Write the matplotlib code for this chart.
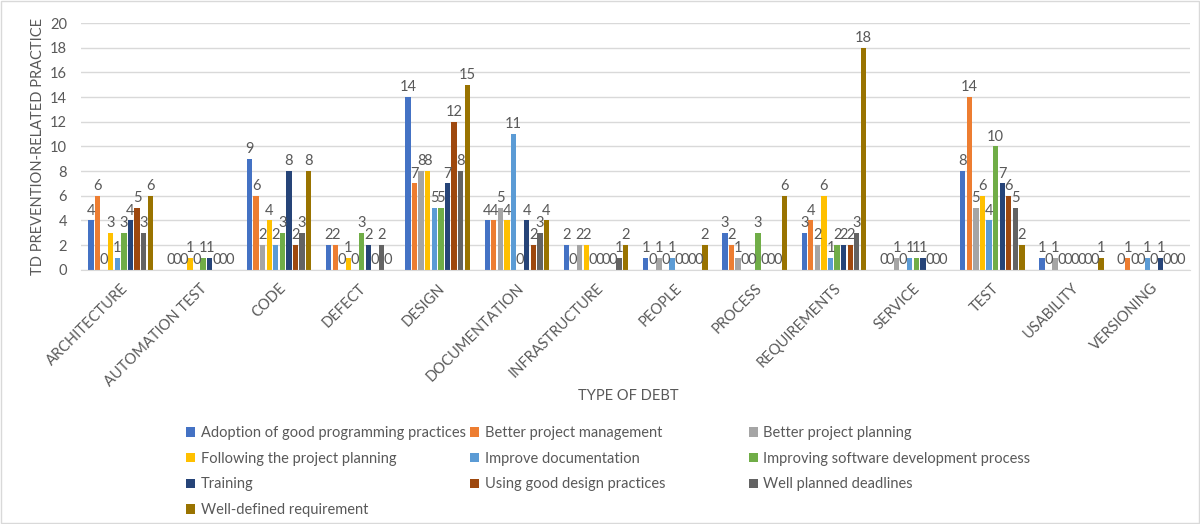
import numpy as np
import matplotlib.pyplot as plt
from matplotlib.patches import Rectangle

plt.rcParams['font.family'] = ['Lato', 'DejaVu Sans']

debt_types = ["ARCHITECTURE", "AUTOMATION TEST", "CODE", "DEFECT", "DESIGN",
              "DOCUMENTATION", "INFRASTRUCTURE", "PEOPLE", "PROCESS",
              "REQUIREMENTS", "SERVICE", "TEST", "USABILITY", "VERSIONING"]

practices = ["Adoption of good programming practices", "Better project management",
             "Better project planning", "Following the project planning",
             "Improve documentation", "Improving software development process",
             "Training", "Using good design practices", "Well planned deadlines",
             "Well-defined requirement"]

# counts per practice, one value per debt type
adoption = [4, 0, 9, 2, 14, 4, 2, 1, 3, 3, 0, 8, 1, 0]
project_mgmt = [6, 0, 6, 2, 7, 4, 0, 0, 2, 4, 0, 14, 0, 1]
project_planning = [0, 0, 2, 0, 8, 5, 2, 1, 1, 2, 1, 5, 1, 0]
following_plan = [3, 1, 4, 1, 8, 4, 2, 0, 0, 6, 0, 6, 0, 0]
improve_docs = [1, 0, 2, 0, 5, 11, 0, 1, 0, 1, 1, 4, 0, 1]
improving_process = [3, 1, 3, 3, 5, 0, 0, 0, 3, 2, 1, 10, 0, 0]
training = [4, 1, 8, 2, 7, 4, 0, 0, 0, 2, 1, 7, 0, 1]
design_practices = [5, 0, 2, 0, 12, 2, 0, 0, 0, 2, 0, 6, 0, 0]
deadlines = [3, 0, 3, 2, 8, 3, 1, 0, 0, 3, 0, 5, 0, 0]
well_defined_req = [6, 0, 8, 0, 15, 4, 2, 2, 6, 18, 0, 2, 1, 0]

series = [adoption, project_mgmt, project_planning, following_plan, improve_docs,
          improving_process, training, design_practices, deadlines, well_defined_req]

colors = ["#4472C4", "#ED7D31", "#A5A5A5", "#FFC000", "#5B9BD5",
          "#70AD47", "#264478", "#9E480E", "#636363", "#997300"]

text_color = "#595959"

fig = plt.figure(figsize=(12, 5.24), dpi=100)
ax = fig.add_axes([0.0675, 0.485, 0.9245, 0.471])

x = np.arange(len(debt_types))
step = 0.083
width = 0.067
handles = []
for i, (vals, name) in enumerate(zip(series, practices)):
    bars = ax.bar(x + (i - 4.5) * step, vals, width=width, color=colors[i], label=name)
    ax.bar_label(bars, labels=[str(v) for v in vals], padding=2,
                 fontsize=10.5, color=text_color)
    handles.append(bars)

ax.set_xlim(-0.5, len(debt_types) - 0.5)
ax.set_ylim(0, 20)
ax.set_yticks(range(0, 21, 2))
ax.yaxis.grid(True, color="#D9D9D9", linewidth=1)
ax.set_axisbelow(True)
for s in ["top", "right", "left"]:
    ax.spines[s].set_visible(False)
ax.spines["bottom"].set_color("#D9D9D9")
ax.tick_params(axis="both", length=0, colors=text_color, labelsize=10.5)
ax.tick_params(axis="y", pad=10)

ax.set_xticks(x)
ax.set_xticklabels(debt_types, rotation=45, ha="right", rotation_mode="anchor")
ax.tick_params(axis="x", pad=8)

fig.text(0.032, 0.72, "TD PREVENTION-RELATED PRACTICE", color=text_color,
         fontsize=10.5, rotation=90, ha="center", va="center")
fig.text(0.524, 0.245, "TYPE OF DEBT", color=text_color, fontsize=10.5,
         ha="center", va="center")

# legend laid out in three equal-width columns
col_x = [0.155, 0.392, 0.624]
for c in range(3):
    idx = list(range(c, len(series), 3))
    fig.legend([handles[k] for k in idx], [practices[k] for k in idx],
               loc="upper left", bbox_to_anchor=(col_x[c], 0.187),
               frameon=False, fontsize=10.5, labelcolor=text_color,
               handlelength=0.6, handleheight=0.6, handletextpad=0.4,
               labelspacing=0.8, borderaxespad=0, borderpad=0)

fig.patches.append(Rectangle((0.001, 0.002), 0.998, 0.996, transform=fig.transFigure,
                             fill=False, edgecolor="#D9D9D9", linewidth=1))

fig.savefig("out.png", dpi=100)
